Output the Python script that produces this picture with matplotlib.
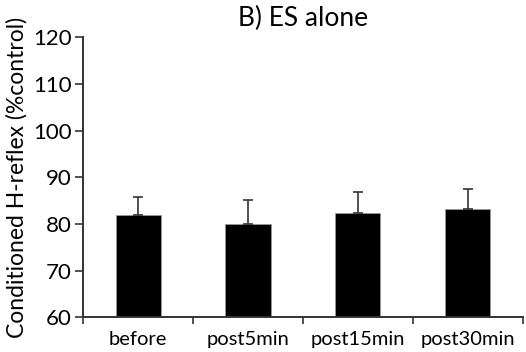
import matplotlib
matplotlib.use("Agg")
import matplotlib.pyplot as plt
import numpy as np
from matplotlib.ticker import FixedLocator

categories = ["before", "post5min", "post15min", "post30min"]
values = [82.0, 80.05, 82.3, 83.3]
errors = [3.8, 5.1, 4.6, 4.3]
yticks = [60, 70, 80, 90, 100, 110, 120]

plt.rcParams['font.family'] = ['Lato', 'DejaVu Sans']

fig = plt.figure(figsize=(5.26, 3.52), dpi=100)
ax = fig.add_axes([0.158, 0.0986, 0.836, 0.795])

x = np.arange(len(categories))
ax.bar(x, values, width=0.41, color='black', edgecolor='#999999', linewidth=0.6, zorder=2)
ax.errorbar(x, values, yerr=[np.zeros(len(errors)), errors], fmt='none',
            ecolor='#333333', elinewidth=1.2, capsize=3.5, capthick=1.2, zorder=3)

ax.set_xlim(-0.5, len(categories) - 0.5)
ax.set_ylim(60, 120)
ax.set_yticks(yticks)
ax.set_xticks(x)
ax.set_xticklabels(categories, fontsize=14.5)
ax.xaxis.set_minor_locator(FixedLocator(np.arange(-0.5, len(categories), 1.0)))
ax.tick_params(axis='x', which='major', length=0, pad=10)
ax.tick_params(axis='x', which='minor', length=5, width=1.2, direction='out', color='#333333')
ax.tick_params(axis='y', length=6, width=1.2, direction='out', color='#333333', labelsize=16, pad=2)

for s in ['top', 'right']:
    ax.spines[s].set_visible(False)
for s in ['left', 'bottom']:
    ax.spines[s].set_linewidth(1.4)
    ax.spines[s].set_color('#333333')

ax.set_ylabel("Conditioned H-reflex (%control)", fontsize=16.5, labelpad=4)
ax.set_title("B) ES alone", fontsize=19, pad=8)

fig.savefig("out.png", dpi=100)
